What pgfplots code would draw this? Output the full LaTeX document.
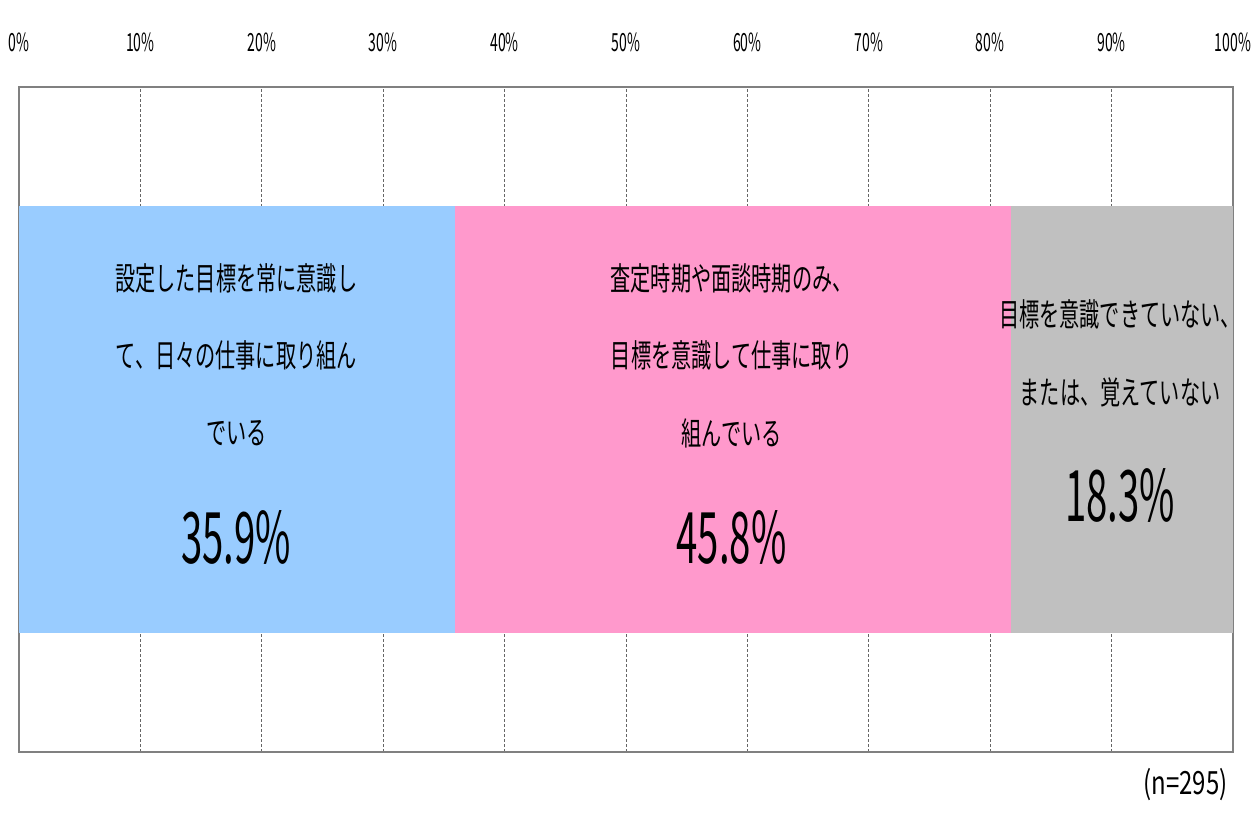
\documentclass[border=0pt]{standalone}
\usepackage{fontspec}
\usepackage{pgfplots}
\pgfplotsset{compat=1.18}
\setmainfont{Noto Sans CJK JP}[FakeStretch=0.63]
\newfontfamily\pctfont{Noto Sans CJK JP}[FakeStretch=0.54]
\newfontfamily\tickfont{Noto Sans CJK JP}[FakeStretch=0.56]
\newfontfamily\nfont{Noto Sans CJK JP}[FakeStretch=0.75]
\definecolor{barblue}{HTML}{99CCFF}
\definecolor{barpink}{HTML}{FF99CC}
\definecolor{bargray}{HTML}{C0C0C0}
\definecolor{framegray}{HTML}{808080}
\definecolor{gridgray}{HTML}{666666}
\tikzset{
    seglabel/.style={font=\fontsize{16pt}{16pt}\selectfont, inner sep=0pt},
    pctlabel/.style={font=\pctfont\fontsize{35.5pt}{35.5pt}\selectfont, inner sep=0pt},
}

\begin{document}
\begin{tikzpicture}
    \begin{axis}[
        xbar stacked,
        scale only axis,
        width=607pt, height=332.6pt,
        xmin=0, xmax=100, ymin=0, ymax=1,
        bar width=213.5pt,
        xtick={0,10,...,100},
        xticklabel pos=right,
        xticklabel={\pgfmathprintnumber{\tick}\%},
        xticklabel style={font=\tickfont\fontsize{12.5pt}{12.5pt}\selectfont, anchor=center, yshift=22pt},
        /pgf/number format/assume math mode=true,
        ytick=\empty,
        major tick length=0pt,
        xmajorgrids,
        grid style={dash pattern=on 1.5pt off 1pt, gridgray, line width=0.5pt},
        axis line style={framegray, line width=1.1pt},
        clip=false,
    ]
        \addplot[fill=barblue, draw=none] coordinates {(35.9,0.5)};
        \addplot[fill=barpink, draw=none] coordinates {(45.8,0.5)};
        \addplot[fill=bargray, draw=none] coordinates {(18.3,0.5)};

        % label anchors, text is set after the axis so it sits above the bars
        \coordinate (a1) at (axis cs:17.9,0.7125);
        \coordinate (a2) at (axis cs:17.9,0.5967);
        \coordinate (a3) at (axis cs:17.9,0.4795);
        \coordinate (ap) at (axis cs:17.9,0.3232);
        \coordinate (b1) at (axis cs:58.7,0.7125);
        \coordinate (b2) at (axis cs:58.7,0.5967);
        \coordinate (b3) at (axis cs:58.7,0.4795);
        \coordinate (bp) at (axis cs:58.7,0.3232);
        \coordinate (c1) at (axis cs:90.7,0.6583);
        \coordinate (c2) at (axis cs:90.7,0.5411);
        \coordinate (cp) at (axis cs:90.7,0.3863);
        \coordinate (nn) at (rel axis cs:1,0);
    \end{axis}
    \node[seglabel] at (a1) {設定した目標を常に意識し};
    \node[seglabel] at (a2) {て、日々の仕事に取り組ん};
    \node[seglabel] at (a3) {でいる};
    \node[pctlabel] at (ap) {35.9\%};
    \node[seglabel] at (b1) {査定時期や面談時期のみ、};
    \node[seglabel] at (b2) {目標を意識して仕事に取り};
    \node[seglabel] at (b3) {組んでいる};
    \node[pctlabel] at (bp) {45.8\%};
    \node[seglabel] at (c1) {目標を意識できていない、};
    \node[seglabel] at (c2) {または、覚えていない};
    \node[pctlabel] at (cp) {18.3\%};
    \node[anchor=east, inner sep=0pt, font=\nfont\fontsize{16pt}{16pt}\selectfont]
        at ([xshift=-2.5pt, yshift=-16.5pt]nn) {(n=295)};
    \path[use as bounding box] (-9.5pt,-44pt) rectangle (620.5pt,376pt);
\end{tikzpicture}
\end{document}
